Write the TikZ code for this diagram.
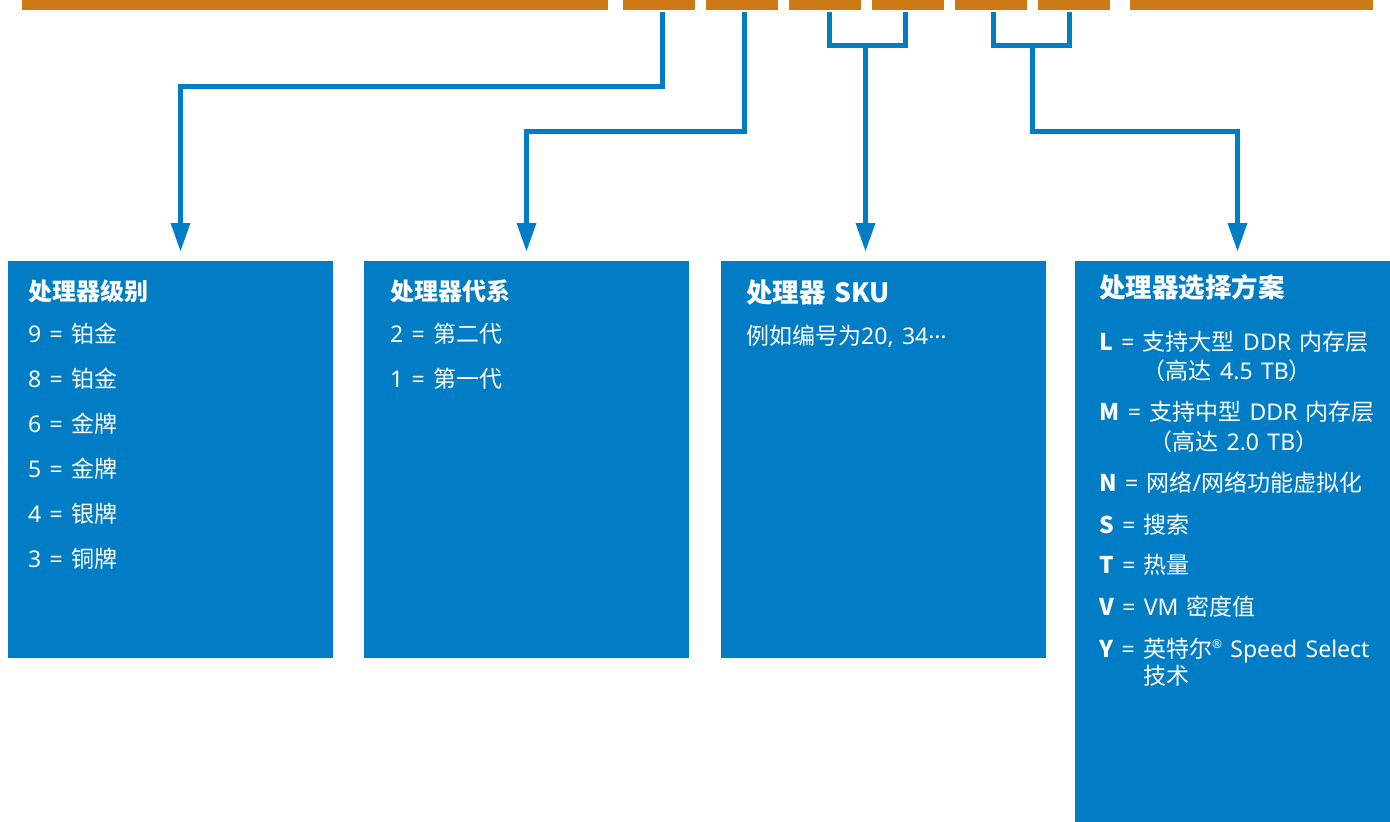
\documentclass[tikz,border=0pt]{standalone}
\usepackage{fontspec}
\setmainfont{Noto Sans}[WordSpace=1.4]
\newfontfamily\cj{Noto Sans CJK SC}[WordSpace=1.4]
\newcommand\zh[1]{{\cj #1}}
\newcommand\bl[1]{{\cj\bfseries #1}}
\usetikzlibrary{arrows.meta}
\definecolor{barorange}{RGB}{205,121,22}
\definecolor{boxblue}{RGB}{0,125,196}
\begin{document}
\begin{tikzpicture}[x=1pt,y=-1pt,
  barseg/.style={fill=barorange, inner sep=0pt, outer sep=0pt, minimum height=10pt},
  panel/.style={fill=boxblue, inner sep=0pt, outer sep=0pt},
  conn/.style={draw=boxblue, line width=5pt, line join=miter},
  arr/.style={conn, -{Triangle[width=20pt,length=28pt,line width=0pt]}, shorten >=10pt},
  txt/.style={text=white, anchor=base west, inner sep=0pt, font=\fontsize{23}{27}\selectfont},
  ttl/.style={text=white, anchor=base west, inner sep=0pt, font=\fontsize{24}{28}\selectfont\cj\bfseries},
  ttlL/.style={text=white, anchor=base west, inner sep=0pt, font=\fontsize{26.5}{30}\selectfont\cj\bfseries},
]
\useasboundingbox (0,0) rectangle (1390,822);
% top bars
\node[barseg, minimum width=586pt] (b1) at (315,5) {};
\node[barseg, minimum width=72pt] (b2) at (659,5) {};
\node[barseg, minimum width=72pt] (b3) at (742,5) {};
\node[barseg, minimum width=72pt] (b4) at (825,5) {};
\node[barseg, minimum width=72pt] (b5) at (908,5) {};
\node[barseg, minimum width=72pt] (b6) at (991,5) {};
\node[barseg, minimum width=72pt] (b7) at (1074,5) {};
\node[barseg, minimum width=243pt] (b8) at (1251.5,5) {};
% panels
\node[panel, minimum width=325pt, minimum height=397pt] (box1) at (170.5,459.5) {};
\node[panel, minimum width=325pt, minimum height=397pt] (box2) at (526.5,459.5) {};
\node[panel, minimum width=325pt, minimum height=397pt] (box3) at (883.5,459.5) {};
\node[panel, minimum width=315pt, minimum height=561pt] (box4) at (1232.5,541.5) {};
% connector points
\coordinate (s2) at (662.5,12);
\coordinate (s3) at (744.5,12);
\coordinate (s4) at (829.5,12);
\coordinate (s5) at (905.5,12);
\coordinate (s6) at (993.5,12);
\coordinate (s7) at (1069.5,12);
\coordinate (k1) at (180.5,86.5);
\coordinate (k2) at (526.5,131.5);
\coordinate (j1) at (865.5,45.5);
\coordinate (j2) at (1032.5,45.5);
\coordinate (k4) at (1237.5,131.5);
% connectors
\draw[arr] (s2) |- (k1) -- (k1 |- box1.north);
\draw[arr] (s3) |- (k2) -- (k2 |- box2.north);
\draw[conn] (s4) |- (s5 |- j1) -- (s5);
\draw[arr] (j1) -- (j1 |- box3.north);
\draw[conn] (s6) |- (s7 |- j2) -- (s7);
\draw[arr] (j2) |- (k4) -- (k4 |- box4.north);
% box 1
\node[ttl] (t1) at (28,300) {处理器级别};
\node[txt] (t1a) at (28,342) {9 = \zh{铂金}};
\node[txt] (t1b) at (28,387) {8 = \zh{铂金}};
\node[txt] (t1c) at (28,432) {6 = \zh{金牌}};
\node[txt] (t1d) at (28,477) {5 = \zh{金牌}};
\node[txt] (t1e) at (28,522) {4 = \zh{银牌}};
\node[txt] (t1f) at (28,567) {3 = \zh{铜牌}};
% box 2
\node[ttl] (t2) at (390,300) {处理器代系};
\node[txt] (t2a) at (390,342) {2 = \zh{第二代}};
\node[txt] (t2b) at (390,387) {1 = \zh{第一代}};
% box 3
\node[ttlL] (t3) at (746,302) {处理器 SKU};
\node[txt] (t3a) at (746,344.5) {\zh{例如编号为}20, 34\raisebox{0.27em}{…}};
% box 4
\node[ttlL] (t4) at (1099,297.5) {处理器选择方案};
\node[txt] (t4a) at (1099,350.5) {\bl{L} = \zh{支持大型} DDR \zh{内存层}};
\node[txt] (t4b) at (1099,379.5) {\phantom{\bl{L} = }\zh{（高达} 4.5 TB\zh{）}};
\node[txt] (t4c) at (1099,420.5) {\bl{M} = \zh{支持中型} DDR \zh{内存层}};
\node[txt] (t4d) at (1099,450.5) {\phantom{\bl{M} = }\zh{（高达} 2.0 TB\zh{）}};
\node[txt] (t4e) at (1099,491.5) {\bl{N} = \zh{网络}/\zh{网络功能虚拟化}};
\node[txt] (t4f) at (1099,533.5) {\bl{S} = \zh{搜索}};
\node[txt] (t4g) at (1099,573.5) {\bl{T} = \zh{热量}};
\node[txt] (t4h) at (1099,615.5) {\bl{V} = VM \zh{密度值}};
\node[txt] (t4i) at (1099,657.5) {\bl{Y} = \zh{英特尔}\raisebox{9pt}{\fontsize{12}{12}\selectfont ®} Speed Select};
\node[txt] (t4j) at (1099,684.5) {\phantom{\bl{Y} = }\zh{技术}};
\end{tikzpicture}
\end{document}
